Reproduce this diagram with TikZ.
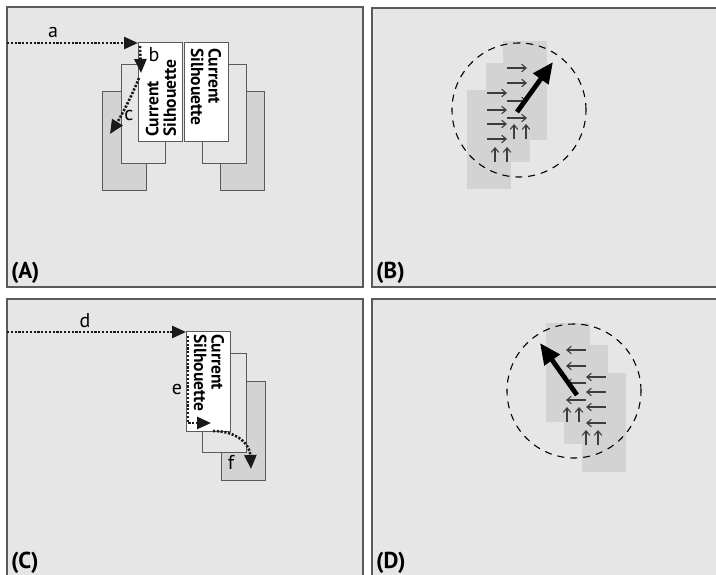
\documentclass[tikz,border=0pt]{standalone}
\usepackage{fontspec}
\setmainfont{PT Sans}
\usepackage{tikz}
\usepackage{xcolor}
\usetikzlibrary{arrows.meta}
\definecolor{panelbg}{HTML}{E6E6E6}
\definecolor{panelline}{HTML}{5A5A5A}
\definecolor{boxline}{HTML}{5A5A5A}
\definecolor{shade}{HTML}{D3D3D3}
\definecolor{ink}{HTML}{1A1A1A}

\begin{document}
\begin{tikzpicture}[x=1pt,y=-1pt,
  panel/.style={fill=panelbg,draw=panelline,line width=1.5pt},
  frame/.style={draw=boxline,line width=1pt,minimum width=44pt,minimum height=99pt,anchor=north west,inner sep=0pt,outer sep=0pt},
  curbox/.style={frame,fill=white},
  midbox/.style={frame,fill=panelbg},
  farbox/.style={frame,fill=shade},
  patch/.style={fill=shade,draw=none,minimum width=44pt,minimum height=99pt,anchor=north west,inner sep=0pt,outer sep=0pt},
  silh/.style={font=\fontsize{17.5}{17.5}\selectfont\bfseries,align=left,inner sep=0pt},
  lab/.style={font=\fontsize{20}{22}\selectfont,inner sep=0pt},
  tag/.style={font=\fontsize{23}{26}\selectfont\bfseries,anchor=base west,inner sep=0pt},
  walk/.style={draw=ink,line width=2.6pt,dash pattern=on 2.2pt off 1.6pt,-{Triangle[length=14pt,width=12pt]}},
  flow/.style={draw=ink!85,line width=1.1pt,-{Straight Barb[length=4.5pt,width=7.5pt]}},
  motion/.style={draw=black,line width=4.8pt,-{Triangle[length=21pt,width=18pt]}},
  reach/.style={draw=black,line width=1.1pt,dash pattern=on 7pt off 6pt}]
\useasboundingbox (0,0) rectangle (716,575);
\fill[white] (0,0) rectangle (716,575);

% panels
\path[panel] (7,7) rectangle (363,287);
\fill[panelbg] (372,8) rectangle (716,287);
\draw[panelline,line width=1.5pt] (716,8) -- (372,8) -- (372,287) -- (716,287);
\fill[panelbg] (7,299) rectangle (363,575);
\draw[panelline,line width=1.5pt] (7,575) -- (7,299) -- (363,299) -- (363,575);
\fill[panelbg] (372,299) rectangle (716,575);
\draw[panelline,line width=1.5pt] (372,575) -- (372,299) -- (716,299);
\node[tag] (tagA) at (11,279) {(A)};
\node[tag] (tagB) at (376,279) {(B)};
\node[tag] (tagC) at (11,568) {(C)};
\node[tag] (tagD) at (376,568) {(D)};

% (A) two silhouettes
\node[farbox] (farL) at (102,92) {};
\node[midbox] (midL) at (121,65) {};
\node[curbox] (curL) at (138,43) {};
\node[farbox] (farR) at (220,92) {};
\node[midbox] (midR) at (202,65) {};
\node[curbox] (curR) at (184,43) {};
\node[silh,rotate=90,anchor=west] (txtL) at (161,137) {Current\\Silhouette};
\node[silh,rotate=-90,anchor=west] (txtR) at (206,48) {Current\\Silhouette};
\coordinate (inA) at (7,43);
\coordinate (cornerA) at (140,46);
\coordinate (dropA) at (141,73);
\coordinate (kinkA) at (139,78);
\coordinate (slipA) at (110,134);
\draw[walk] (inA) -- (curL.north west);
\draw[walk] (cornerA) -- (dropA);
\draw[walk] (kinkA) .. controls (130,100) and (120,118) .. (slipA);
\node[lab] (la) at (53,33) {a};
\node[lab] (lb) at (154,55) {b};
\node[lab] (lc) at (129,116) {c};

% (B) motion to the right
\node[patch] (pB1) at (467,90) {};
\node[patch] (pB2) at (486,63) {};
\node[patch] (pB3) at (503,41) {};
\draw[reach] (519,110) circle[radius=67pt];
\draw[flow] (507,68) -- (527,68);
\draw[flow] (507,83) -- (527,83);
\draw[flow] (487,93) -- (507,93);
\draw[flow] (507,101) -- (527,101);
\draw[flow] (487,110) -- (507,110);
\draw[flow] (507,118) -- (527,118);
\draw[flow] (487,124) -- (507,124);
\draw[flow] (487,139) -- (507,139);
\draw[flow] (514,139) -- (514,124);
\draw[flow] (526,139) -- (526,124);
\draw[flow] (495,162) -- (495,147);
\draw[flow] (507,162) -- (507,147);
\draw[motion] (517,112) -- (553,62);

% (C) one silhouette
\node[farbox] (farC) at (221,381) {};
\node[midbox] (midC) at (202,353) {};
\node[curbox] (curC) at (186,332) {};
\node[silh,rotate=-90,anchor=west] (txtC) at (209,334) {Current\\Silhouette};
\coordinate (inC) at (7,332);
\coordinate (topC) at (188,336);
\coordinate (footC) at (188,423);
\coordinate (tipE) at (211,423);
\coordinate (startF) at (213,431);
\coordinate (tipF) at (251,469);
\draw[walk] (inC) -- (curC.north west);
\draw[walk] (topC) -- (footC) -- (tipE);
\draw[walk] (startF) .. controls (238,431) and (250,445) .. (tipF);
\node[lab] (ld) at (85,321) {d};
\node[lab] (le) at (177,389) {e};
\node[lab] (lf) at (231,462) {f};

% (D) motion to the left
\node[patch] (pD1) at (546,323) {};
\node[patch] (pD2) at (564,345) {};
\node[patch] (pD3) at (582,373) {};
\draw[reach] (574,391) circle[radius=67pt];
\draw[flow] (586,350) -- (566,350);
\draw[flow] (586,366) -- (566,366);
\draw[flow] (606,377) -- (586,377);
\draw[flow] (586,383) -- (566,383);
\draw[flow] (606,392) -- (586,392);
\draw[flow] (586,400) -- (566,400);
\draw[flow] (606,407) -- (586,407);
\draw[flow] (606,423) -- (586,423);
\draw[flow] (567,422) -- (567,407);
\draw[flow] (579,422) -- (579,407);
\draw[flow] (586,445) -- (586,430);
\draw[flow] (598,445) -- (598,430);
\draw[motion] (577,395) -- (540,343);
\end{tikzpicture}
\end{document}
